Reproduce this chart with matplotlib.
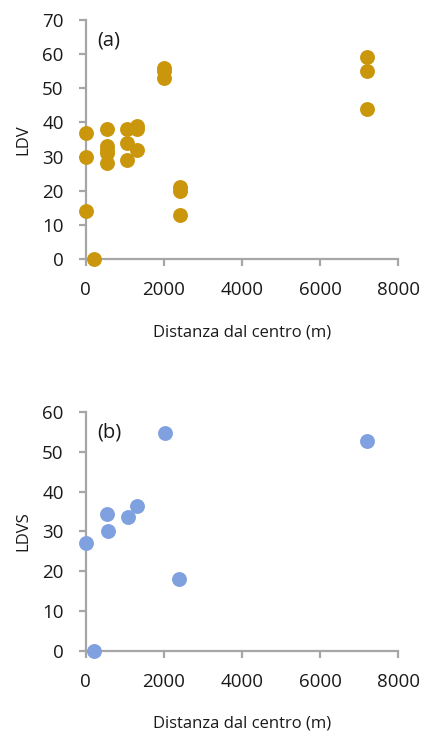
import matplotlib
matplotlib.use("Agg")
import matplotlib.pyplot as plt

# Panel (a)
dist_a = [0, 0, 0, 200, 550, 550, 550, 550, 550, 1050, 1050, 1050, 1300, 1300, 1300,
          2000, 2000, 2000, 2400, 2400, 2400, 7200, 7200, 7200]
ldv = [37, 30, 14, 0, 38, 33, 32, 31, 28, 38, 34, 29, 39, 38, 32,
       56, 55, 53, 21, 20, 13, 59, 55, 44]

# Panel (b)
dist_b = [0, 200, 550, 580, 1070, 1300, 2020, 2390, 7200]
ldvs = [27, 0, 34.3, 30, 33.7, 36.4, 54.8, 18, 52.8]

xticks = [0, 2000, 4000, 6000, 8000]
yticks_a = [0, 10, 20, 30, 40, 50, 60, 70]
yticks_b = [0, 10, 20, 30, 40, 50, 60]

plt.rcParams['font.family'] = ['Open Sans', 'DejaVu Sans']

fig = plt.figure(figsize=(4.25, 7.37), dpi=100)
ax1 = fig.add_axes([0.202, 0.6486, 0.735, 0.3244])
ax2 = fig.add_axes([0.202, 0.117, 0.735, 0.324])

gray = '#a6a6a6'
txt = '#1a1a1a'

def style(ax, yticks, ylabel, tag):
    ax.set_xlim(0, 8000)
    ax.set_ylim(yticks[0], yticks[-1])
    ax.set_xticks(xticks)
    ax.set_yticks(yticks)
    for s in ['top', 'right']:
        ax.spines[s].set_visible(False)
    for s in ['left', 'bottom']:
        ax.spines[s].set_color(gray)
        ax.spines[s].set_linewidth(1.6)
    ax.tick_params(axis='both', direction='out', length=5, width=1.6, color=gray,
                   labelsize=13.5, labelcolor=txt, pad=11)
    ax.set_xlabel('Distanza dal centro (m)', fontsize=12, labelpad=18, color=txt)
    ax.set_ylabel(ylabel, fontsize=12, labelpad=8, color=txt)
    ax.text(0.035, 0.955, tag, transform=ax.transAxes, fontsize=14.5, va='top', ha='left',
            color=txt)

ax1.scatter(dist_a, ldv, s=115, color='#c9960c', clip_on=False, zorder=3, linewidths=0)
ax2.scatter(dist_b, ldvs, s=115, color='#7fa1e0', clip_on=False, zorder=3, linewidths=0)

style(ax1, yticks_a, 'LDV', '(a)')
style(ax2, yticks_b, 'LDVS', '(b)')

fig.savefig('out.png', dpi=100)
